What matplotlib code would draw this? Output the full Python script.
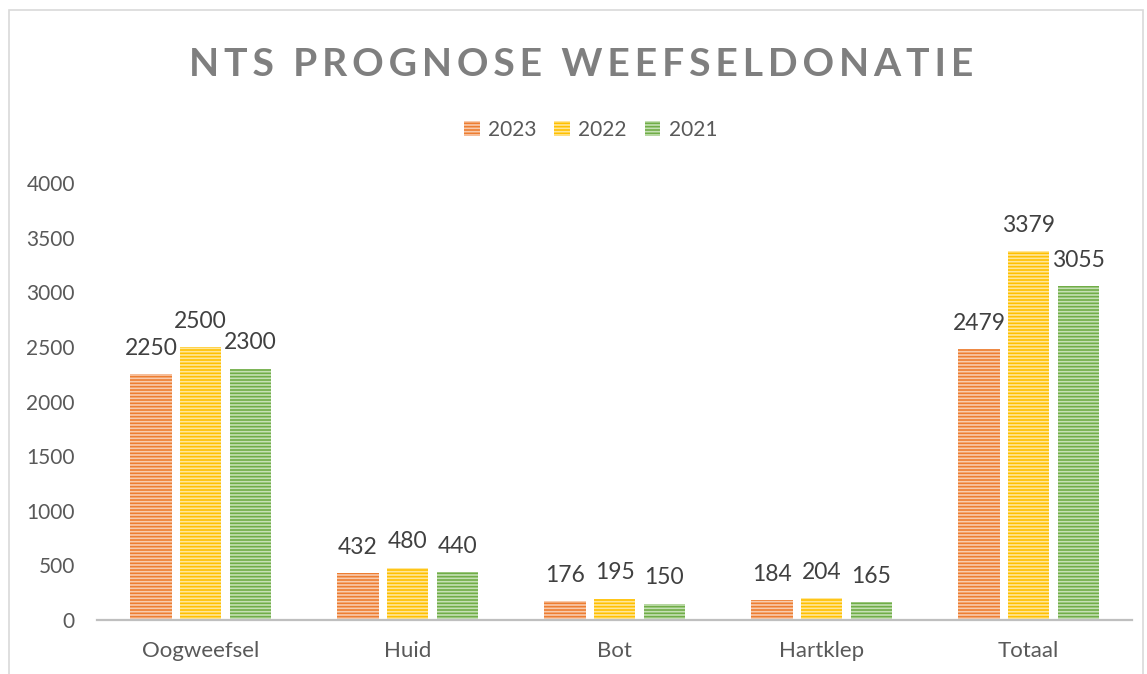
import numpy as np
import matplotlib
matplotlib.use('Agg')
import matplotlib.pyplot as plt
from matplotlib.patches import Rectangle, Patch

categories = ['Oogweefsel', 'Huid', 'Bot', 'Hartklep', 'Totaal']
years = ['2023', '2022', '2021']
values_2023 = [2250, 432, 176, 184, 2479]
values_2022 = [2500, 480, 195, 204, 3379]
values_2021 = [2300, 440, 150, 165, 3055]
yticks = [0, 500, 1000, 1500, 2000, 2500, 3000, 3500, 4000]

colors = ['#ED7D31', '#FFC000', '#70AD47']
stripes = ['#F8CBAD', '#FFE699', '#C5E0B4']

plt.rcParams['font.family'] = ['Lato', 'DejaVu Sans']
plt.rcParams['hatch.linewidth'] = 1.2

fig = plt.figure(figsize=(11.47, 6.74), dpi=100)
ax = fig.add_axes([0.0846, 0.080, 0.9024, 0.6485])

x = np.arange(len(categories))
width = 0.2
offsets = [-0.24, 0.0, 0.24]
series = [values_2023, values_2022, values_2021]

for vals, off, c, s in zip(series, offsets, colors, stripes):
    bars = ax.bar(x + off, vals, width, color=c, edgecolor=s, linewidth=0,
                  hatch='-----', zorder=2)
    for b, v in zip(bars, vals):
        ax.annotate(str(v), (b.get_x() + b.get_width() / 2, v),
                    xytext=(0, 11), textcoords='offset points',
                    ha='center', va='bottom', fontsize=16.5, color='#404040')

ax.set_xlim(-0.5, len(categories) - 0.5)
ax.set_ylim(0, 4000)
ax.set_yticks(yticks)
ax.set_xticks(x)
ax.set_xticklabels(categories)
ax.tick_params(axis='y', length=0, pad=16, labelsize=15, labelcolor='#595959')
ax.tick_params(axis='x', length=0, pad=15, labelsize=16, labelcolor='#595959')
for side in ['top', 'right', 'left']:
    ax.spines[side].set_visible(False)
ax.spines['bottom'].set_color('#BFBFBF')
ax.spines['bottom'].set_linewidth(1.6)
ax.spines['bottom'].set_zorder(3)

title = '\u2009'.join('NTS PROGNOSE WEEFSELDONATIE')
fig.text(0.507, 0.905, title, ha='center', va='center', fontsize=28.2,
         fontweight='bold', color='#7F7F7F')

handles = [Patch(facecolor=c, edgecolor=s, linewidth=0, hatch='-----')
           for c, s in zip(colors, stripes)]
fig.legend(handles, years, loc='center', bbox_to_anchor=(0.515, 0.807),
           ncol=3, frameon=False, fontsize=15, labelcolor='#595959',
           handlelength=0.75, handleheight=0.75, handletextpad=0.4,
           columnspacing=0.85)

fig.patches.append(Rectangle((9 / 1147, -0.01), (1143 - 9) / 1147, 1.0 - 10 / 674 + 0.01,
                             transform=fig.transFigure, fill=False,
                             edgecolor='#D9D9D9', linewidth=1.2))

fig.savefig('out.png', dpi=100)
